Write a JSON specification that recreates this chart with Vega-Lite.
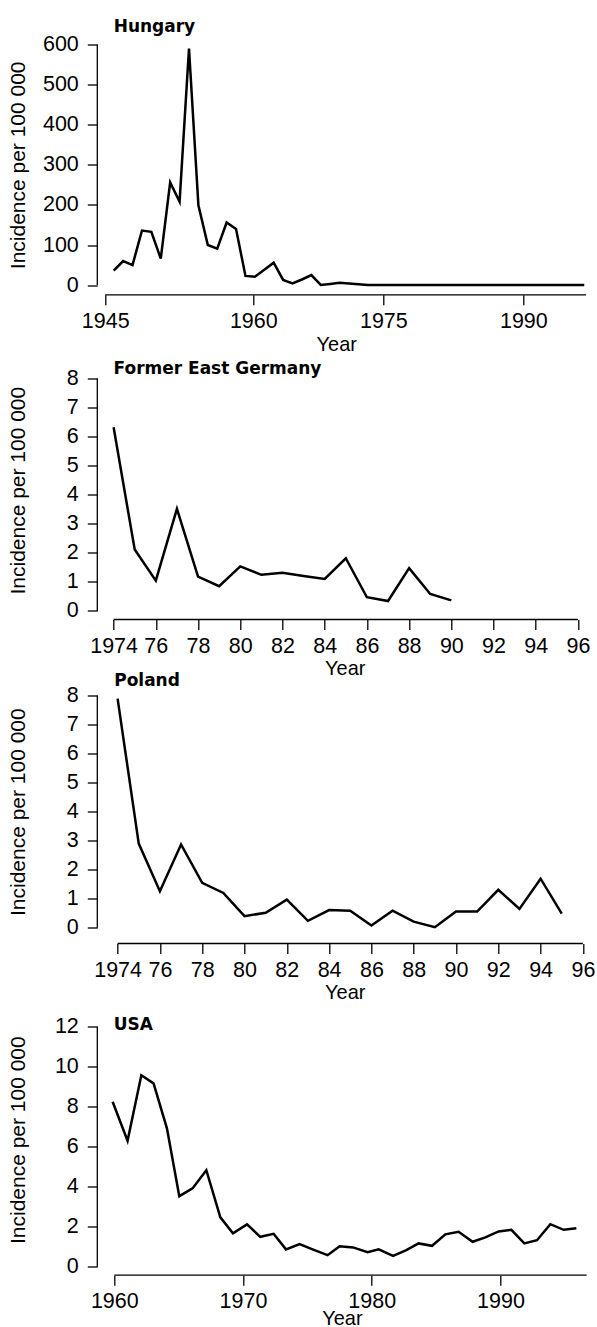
{
  "$schema": "https://vega.github.io/schema/vega-lite/v6.json",
  "padding": {"left": 7.3, "top": 17.5, "right": 0, "bottom": 0},
  "background": "white",
  "bounds": "flush",
  "spacing": 84,
  "datasets": {
    "hungary": [
      {"year": 1946, "incidence": 36}, {"year": 1947, "incidence": 60}, {"year": 1948, "incidence": 50},
      {"year": 1949, "incidence": 136}, {"year": 1950, "incidence": 133}, {"year": 1951, "incidence": 66},
      {"year": 1952, "incidence": 256}, {"year": 1953, "incidence": 208}, {"year": 1954, "incidence": 590},
      {"year": 1955, "incidence": 199}, {"year": 1956, "incidence": 100}, {"year": 1957, "incidence": 91},
      {"year": 1958, "incidence": 156}, {"year": 1959, "incidence": 140}, {"year": 1960, "incidence": 23},
      {"year": 1961, "incidence": 21}, {"year": 1962, "incidence": 38}, {"year": 1963, "incidence": 56},
      {"year": 1964, "incidence": 13}, {"year": 1965, "incidence": 4}, {"year": 1966, "incidence": 14},
      {"year": 1967, "incidence": 25}, {"year": 1968, "incidence": 0.5}, {"year": 1969, "incidence": 3},
      {"year": 1970, "incidence": 6}, {"year": 1971, "incidence": 4}, {"year": 1972, "incidence": 2},
      {"year": 1973, "incidence": 0.5}, {"year": 1974, "incidence": 0.2}, {"year": 1975, "incidence": 0.1},
      {"year": 1976, "incidence": 0.1}, {"year": 1977, "incidence": 0.1}, {"year": 1978, "incidence": 0.1},
      {"year": 1979, "incidence": 0.1}, {"year": 1980, "incidence": 0.1}, {"year": 1981, "incidence": 0.1},
      {"year": 1982, "incidence": 0.1}, {"year": 1983, "incidence": 0.1}, {"year": 1984, "incidence": 0.1},
      {"year": 1985, "incidence": 0.1}, {"year": 1986, "incidence": 0.1}, {"year": 1987, "incidence": 0.1},
      {"year": 1988, "incidence": 0.1}, {"year": 1989, "incidence": 0.1}, {"year": 1990, "incidence": 0.1},
      {"year": 1991, "incidence": 0.1}, {"year": 1992, "incidence": 0.1}, {"year": 1993, "incidence": 0.1},
      {"year": 1994, "incidence": 0.1}, {"year": 1995, "incidence": 0.1}, {"year": 1996, "incidence": 0.1}
    ],
    "feg": [
      {"year": 1974, "incidence": 6.31}, {"year": 1975, "incidence": 2.11}, {"year": 1976, "incidence": 1.04},
      {"year": 1977, "incidence": 3.51}, {"year": 1978, "incidence": 1.18}, {"year": 1979, "incidence": 0.85},
      {"year": 1980, "incidence": 1.53}, {"year": 1981, "incidence": 1.24}, {"year": 1982, "incidence": 1.31},
      {"year": 1983, "incidence": 1.2}, {"year": 1984, "incidence": 1.1}, {"year": 1985, "incidence": 1.81},
      {"year": 1986, "incidence": 0.47}, {"year": 1987, "incidence": 0.34}, {"year": 1988, "incidence": 1.47},
      {"year": 1989, "incidence": 0.58}, {"year": 1990, "incidence": 0.36}
    ],
    "poland": [
      {"year": 1974, "incidence": 7.89}, {"year": 1975, "incidence": 2.9}, {"year": 1976, "incidence": 1.26},
      {"year": 1977, "incidence": 2.87}, {"year": 1978, "incidence": 1.55}, {"year": 1979, "incidence": 1.2},
      {"year": 1980, "incidence": 0.4}, {"year": 1981, "incidence": 0.52}, {"year": 1982, "incidence": 0.97},
      {"year": 1983, "incidence": 0.24}, {"year": 1984, "incidence": 0.61}, {"year": 1985, "incidence": 0.59},
      {"year": 1986, "incidence": 0.08}, {"year": 1987, "incidence": 0.59}, {"year": 1988, "incidence": 0.21},
      {"year": 1989, "incidence": 0.02}, {"year": 1990, "incidence": 0.56}, {"year": 1991, "incidence": 0.56},
      {"year": 1992, "incidence": 1.31}, {"year": 1993, "incidence": 0.65}, {"year": 1994, "incidence": 1.69},
      {"year": 1995, "incidence": 0.49}
    ],
    "usa": [
      {"year": 1959.87, "incidence": 8.25}, {"year": 1961.03, "incidence": 6.3}, {"year": 1962.1, "incidence": 9.58},
      {"year": 1963.05, "incidence": 9.17}, {"year": 1964.09, "incidence": 6.92}, {"year": 1965.05, "incidence": 3.53},
      {"year": 1966.08, "incidence": 3.92}, {"year": 1967.15, "incidence": 4.83}, {"year": 1968.24, "incidence": 2.47},
      {"year": 1969.22, "incidence": 1.67}, {"year": 1970.31, "incidence": 2.12}, {"year": 1971.34, "incidence": 1.5},
      {"year": 1972.38, "incidence": 1.65}, {"year": 1973.34, "incidence": 0.87}, {"year": 1974.4, "incidence": 1.13},
      {"year": 1975.5, "incidence": 0.85}, {"year": 1976.57, "incidence": 0.58}, {"year": 1977.51, "incidence": 1.03},
      {"year": 1978.55, "incidence": 0.97}, {"year": 1979.68, "incidence": 0.73}, {"year": 1980.54, "incidence": 0.87},
      {"year": 1981.66, "incidence": 0.55}, {"year": 1982.69, "incidence": 0.83}, {"year": 1983.64, "incidence": 1.17},
      {"year": 1984.69, "incidence": 1.05}, {"year": 1985.72, "incidence": 1.62}, {"year": 1986.75, "incidence": 1.75},
      {"year": 1987.84, "incidence": 1.25}, {"year": 1988.83, "incidence": 1.47}, {"year": 1989.86, "incidence": 1.77},
      {"year": 1990.85, "incidence": 1.85}, {"year": 1991.86, "incidence": 1.17}, {"year": 1992.84, "incidence": 1.33},
      {"year": 1993.88, "incidence": 2.13}, {"year": 1994.91, "incidence": 1.85}, {"year": 1995.9, "incidence": 1.93}
    ]
  },
  "vconcat": [
    {
      "width": 478, "height": 240.6,
      "layer": [
        {
          "data": {"name": "hungary"},
          "mark": {"type": "line", "color": "black", "strokeWidth": 2.5},
          "encoding": {
            "x": {"field": "year", "type": "quantitative", "scale": {"domain": [1944.256, 1995.05], "nice": false, "zero": false},
                  "axis": {"values": [1945.1, 1960.83, 1974.65, 1989.53], "tickCount": 40,
                           "labelExpr": "format(round(datum.value / 5) * 5, 'd')", "title": "Year", "offset": 9.7}},
            "y": {"field": "incidence", "type": "quantitative", "scale": {"domain": [0, 600], "nice": false},
                  "axis": {"values": [0, 100, 200, 300, 400, 500, 600], "tickCount": 40, "format": "d", "title": "Incidence per 100 000", "titlePadding": 13.8}}
          }
        },
        {
          "data": {"values": [{"part": "x axis line"}]},
          "mark": {"type": "rule", "color": "black", "strokeWidth": 1.3},
          "encoding": {"x": {"datum": 1945.1}, "x2": {"datum": 1996.2}, "y": {"datum": -24.19}}
        },
        {
          "data": {"values": [{"part": "y axis line"}]},
          "mark": {"type": "rule", "color": "black", "strokeWidth": 1.3},
          "encoding": {"x": {"datum": 1944.256}, "y": {"datum": 0}, "y2": {"datum": 600}}
        },
        {
          "data": {"values": [{"label": "Hungary"}]},
          "mark": {"type": "text", "font": "DejaVu Sans", "fontWeight": "bold", "fontSize": 17, "align": "left", "baseline": "alphabetic", "color": "black"},
          "encoding": {"x": {"datum": 1946.0}, "y": {"datum": 630.4}, "text": {"field": "label"}}
        }
      ]
    },
    {
      "width": 495, "height": 241.4,
      "layer": [
        {
          "data": {"name": "feg"},
          "mark": {"type": "line", "color": "black", "strokeWidth": 2.5},
          "encoding": {
            "x": {"field": "year", "type": "quantitative", "scale": {"domain": [1973.228, 1996.677], "nice": false, "zero": false},
                  "axis": {"values": [1974, 1976, 1978, 1980, 1982, 1984, 1986, 1988, 1990, 1992, 1994, 1996], "tickCount": 40,
                           "labelExpr": "datum.value == 1974 ? '1974' : substring(toString(datum.value), 2, 4)", "title": "Year", "offset": 8.6}},
            "y": {"field": "incidence", "type": "quantitative", "scale": {"domain": [0, 8.298], "nice": false},
                  "axis": {"values": [0, 1, 2, 3, 4, 5, 6, 7, 8], "tickCount": 40, "format": "d", "title": "Incidence per 100 000", "titlePadding": 37.75}}
          }
        },
        {
          "data": {"values": [{"part": "x axis line"}]},
          "mark": {"type": "rule", "color": "black", "strokeWidth": 1.3},
          "encoding": {"x": {"datum": 1974}, "x2": {"datum": 1996}, "y": {"datum": -0.2956}}
        },
        {
          "data": {"values": [{"part": "y axis line"}]},
          "mark": {"type": "rule", "color": "black", "strokeWidth": 1.3},
          "encoding": {"x": {"datum": 1973.228}, "y": {"datum": 0}, "y2": {"datum": 8}}
        },
        {
          "data": {"values": [{"label": "Former East Germany"}]},
          "mark": {"type": "text", "font": "DejaVu Sans", "fontWeight": "bold", "fontSize": 17, "align": "left", "baseline": "alphabetic", "color": "black"},
          "encoding": {"x": {"datum": 1974.0}, "y": {"datum": 8.14}, "text": {"field": "label"}}
        }
      ]
    },
    {
      "width": 494.9, "height": 232.3,
      "layer": [
        {
          "data": {"name": "poland"},
          "mark": {"type": "line", "color": "black", "strokeWidth": 2.5},
          "encoding": {
            "x": {"field": "year", "type": "quantitative", "scale": {"domain": [1973.04, 1996.44], "nice": false, "zero": false},
                  "axis": {"values": [1974, 1976, 1978, 1980, 1982, 1984, 1986, 1988, 1990, 1992, 1994, 1996], "tickCount": 40,
                           "labelExpr": "datum.value == 1974 ? '1974' : substring(toString(datum.value), 2, 4)", "title": "Year", "offset": 15.7}},
            "y": {"field": "incidence", "type": "quantitative", "scale": {"domain": [0, 8], "nice": false},
                  "axis": {"values": [0, 1, 2, 3, 4, 5, 6, 7, 8], "tickCount": 40, "format": "d", "title": "Incidence per 100 000", "titlePadding": 37.75}}
          }
        },
        {
          "data": {"values": [{"part": "x axis line"}]},
          "mark": {"type": "rule", "color": "black", "strokeWidth": 1.3},
          "encoding": {"x": {"datum": 1974}, "x2": {"datum": 1996}, "y": {"datum": -0.5406}}
        },
        {
          "data": {"values": [{"part": "y axis line"}]},
          "mark": {"type": "rule", "color": "black", "strokeWidth": 1.3},
          "encoding": {"x": {"datum": 1973.04}, "y": {"datum": 0}, "y2": {"datum": 8}}
        },
        {
          "data": {"values": [{"label": "Poland"}]},
          "mark": {"type": "text", "font": "DejaVu Sans", "fontWeight": "bold", "fontSize": 17, "align": "left", "baseline": "alphabetic", "color": "black"},
          "encoding": {"x": {"datum": 1973.84}, "y": {"datum": 8.334}, "text": {"field": "label"}}
        }
      ]
    },
    {
      "width": 489.1, "height": 254.3,
      "layer": [
        {
          "data": {"name": "usa"},
          "mark": {"type": "line", "color": "black", "strokeWidth": 2.5},
          "encoding": {
            "x": {"field": "year", "type": "quantitative", "scale": {"domain": [1958.679, 1996.68], "nice": false, "zero": false},
                  "axis": {"values": [1960, 1970, 1980, 1990], "tickCount": 40, "format": "d", "title": "Year", "offset": 8.4, "labelPadding": 5, "titlePadding": -3}},
            "y": {"field": "incidence", "type": "quantitative", "scale": {"domain": [0, 12.715], "nice": false},
                  "axis": {"values": [0, 2, 4, 6, 8, 10, 12], "tickCount": 40, "format": "d", "title": "Incidence per 100 000", "titlePadding": 25.8}}
          }
        },
        {
          "data": {"values": [{"part": "x axis line"}]},
          "mark": {"type": "rule", "color": "black", "strokeWidth": 1.3},
          "encoding": {"x": {"datum": 1960}, "x2": {"datum": 1996.7}, "y": {"datum": -0.42}}
        },
        {
          "data": {"values": [{"part": "y axis line"}]},
          "mark": {"type": "rule", "color": "black", "strokeWidth": 1.3},
          "encoding": {"x": {"datum": 1958.679}, "y": {"datum": 0}, "y2": {"datum": 12}}
        },
        {
          "data": {"values": [{"label": "USA"}]},
          "mark": {"type": "text", "font": "DejaVu Sans", "fontWeight": "bold", "fontSize": 17, "align": "left", "baseline": "alphabetic", "color": "black"},
          "encoding": {"x": {"datum": 1959.95}, "y": {"datum": 11.815}, "text": {"field": "label"}}
        }
      ]
    }
  ],
  "config": {
    "view": {"stroke": null},
    "axis": {
      "grid": false, "domain": false,
      "ticks": true, "tickColor": "black", "tickWidth": 1.3, "tickSize": 10,
      "labelColor": "black", "titleColor": "black",
      "labelFont": "Liberation Sans", "titleFont": "Liberation Sans",
      "labelFontSize": 21.5, "titleFontSize": 20, "titleFontWeight": "normal",
      "labelOverlap": false, "labelFlush": false
    },
    "axisY": {"labelPadding": 9, "titleFontSize": 21},
    "axisX": {"labelPadding": 6, "titlePadding": 2}
  }
}
